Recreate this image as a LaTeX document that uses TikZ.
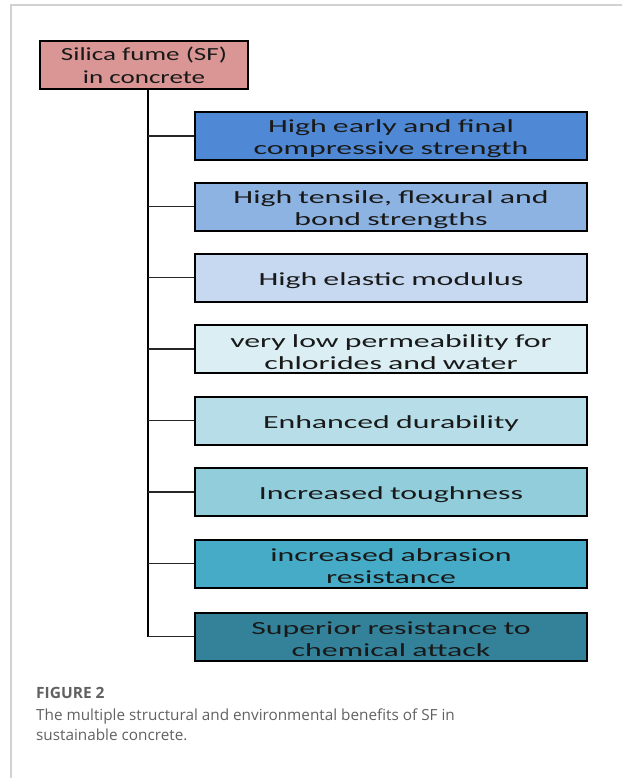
\documentclass[tikz,border=0pt]{standalone}
\usepackage{fontspec}
\newfontfamily\boxfont[FakeStretch=1.72]{Carlito}
\newfontfamily\rootfont[FakeStretch=1.46]{Carlito}
\newfontfamily\capfont{Open Sans}
\begin{document}
\begin{tikzpicture}[x=1pt,y=-1pt,
  benefit/.style={draw=black,line width=2pt,minimum width=392pt,minimum height=48pt,inner sep=0pt},
  btext/.style={text width=385pt,align=center,inner sep=0pt,
    font=\boxfont\fontsize{18.5}{22}\selectfont,text=black!90},
  rootbox/.style={draw=black,line width=2pt,minimum width=208pt,minimum height=48pt,
    text width=204pt,align=center,inner sep=0pt,fill=rootpink,text=black!90,
    font=\rootfont\fontsize{18.5}{23}\selectfont},
  trunk/.style={line width=2pt,black},
  branch/.style={line width=1.5pt,black!85}]
\definecolor{rootpink}{HTML}{D99694}
\definecolor{cA}{HTML}{4F89D6}
\definecolor{cB}{HTML}{8DB3E2}
\definecolor{cC}{HTML}{C6D9F1}
\definecolor{cD}{HTML}{DAEEF3}
\definecolor{cE}{HTML}{B7DEE8}
\definecolor{cF}{HTML}{92CDDC}
\definecolor{cG}{HTML}{45ABC6}
\definecolor{cH}{HTML}{33829A}
\definecolor{framegray}{HTML}{D2D2D2}
\useasboundingbox (0,0) rectangle (622,778);
% page frame
\draw[framegray,line width=1.2pt] (11,778) -- (11,5) -- (622,5);

\node[rootbox] (root) at (144,65) {Silica fume (SF)\\in concrete};

% benefit boxes
\node[benefit,fill=cA] (b1) at (391,136)   {};
\node[benefit,fill=cB] (b2) at (391,206.5) {};
\node[benefit,fill=cC] (b3) at (391,277.5) {};
\node[benefit,fill=cD] (b4) at (391,349)   {};
\node[benefit,fill=cE] (b5) at (391,420.5) {};
\node[benefit,fill=cF] (b6) at (391,492)   {};
\node[benefit,fill=cG] (b7) at (391,563.5) {};
\node[benefit,fill=cH] (b8) at (391,636.5) {};

% their labels, set a little below the box centres
\node[btext] (t1) at ([yshift=-3pt]b1.center) {High early and final\\compressive strength};
\node[btext] (t2) at ([yshift=-3pt]b2.center) {High tensile, flexural and\\bond strengths};
\node[btext] (t3) at ([yshift=-3pt]b3.center) {High elastic modulus};
\node[btext] (t4) at ([yshift=-3pt]b4.center) {very low permeability for\\chlorides and water};
\node[btext] (t5) at ([yshift=-3pt]b5.center) {Enhanced durability};
\node[btext] (t6) at ([yshift=-3pt]b6.center) {Increased toughness};
\node[btext] (t7) at ([yshift=-3pt]b7.center) {increased abrasion\\resistance};
\node[btext] (t8) at ([yshift=-3pt]b8.center) {Superior resistance to\\chemical attack};

% tree connectors
\coordinate (tk) at ([xshift=4pt]root.south);
\draw[trunk] (tk) -- (tk |- b8.west);
\foreach \b in {b1,b2,b3,b4,b5,b6,b7,b8}
  \draw[branch] (tk |- \b.west) -- (\b.west);

% caption
\node[anchor=base west,inner sep=0pt,text=black!62,font=\capfont\bfseries\fontsize{15.5}{19}\selectfont] (fig) at (36,698) {FIGURE 2};
\node[anchor=north west,inner sep=0pt,text=black!62,align=left,font=\capfont\fontsize{15.3}{20}\selectfont] (cap) at (36,709)
  {The multiple structural and environmental benefits of SF in\\sustainable concrete.};
\end{tikzpicture}
\end{document}
